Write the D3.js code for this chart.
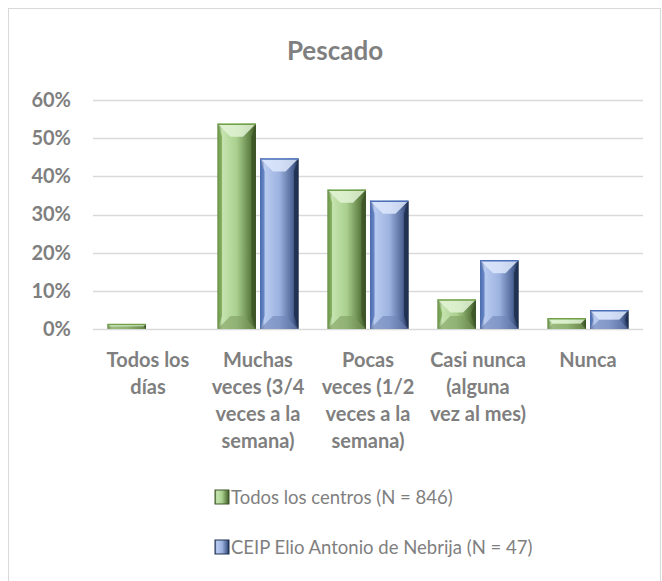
<!DOCTYPE html>
<html>
<head>
<meta charset="utf-8">
<script src="https://cdn.jsdelivr.net/npm/d3@7"></script>
<style>
  body { margin: 0; background: #fff; }
  text { font-family: Lato, "Open Sans", sans-serif; fill: #7f7f7f; }
</style>
</head>
<body>
<div id="chart"></div>
<script>
// data
const categories = [
  "Todos los\ndías",
  "Muchas\nveces (3/4\nveces a la\nsemana)",
  "Pocas\nveces (1/2\nveces a la\nsemana)",
  "Casi nunca\n(alguna\nvez al mes)",
  "Nunca"
];
const todosCentros = [1.3, 53.8, 36.5, 7.7, 2.8];
const ceipNebrija = [0, 44.7, 33.6, 18.0, 4.9];
const yTicks = [0, 10, 20, 30, 40, 50, 60];
const seriesNames = ["Todos los centros (N = 846)", "CEIP Elio Antonio de Nebrija (N = 47)"];

const W = 662, H = 581;
const margin = { left: 93, right: 19, top: 100, bottom: 252 };

const svg = d3.select("#chart").append("svg")
  .attr("width", W)
  .attr("height", H);

// colour sets for the bevelled bars
const palettes = [
  { id: "g", edge: "#3e5628", dark: "#5f7f43", mid: "#a9d08e", light: "#c6e4b0", top: "#e2f3d6", bot: "#7e9f60", line: "#70a047" },
  { id: "b", edge: "#1f3050", dark: "#4e6596", mid: "#9db3e0", light: "#b9cbef", top: "#dde7fb", bot: "#6f86b8", line: "#4a6fb8" }
];

const defs = svg.append("defs");
palettes.forEach(p => {
  const g = defs.append("linearGradient").attr("id", "face-" + p.id)
    .attr("x1", 0).attr("x2", 1).attr("y1", 0).attr("y2", 0);
  g.append("stop").attr("offset", "0%").attr("stop-color", p.dark);
  g.append("stop").attr("offset", "12%").attr("stop-color", p.light);
  g.append("stop").attr("offset", "50%").attr("stop-color", p.mid);
  g.append("stop").attr("offset", "85%").attr("stop-color", p.dark);
  g.append("stop").attr("offset", "100%").attr("stop-color", p.edge);
});

// chart frame
svg.append("rect")
  .attr("x", 8.5).attr("y", 8.5)
  .attr("width", W - 10).attr("height", H + 10)
  .attr("fill", "none")
  .attr("stroke", "#d9d9d9");

svg.append("text")
  .attr("x", 335).attr("y", 60)
  .attr("text-anchor", "middle")
  .attr("font-size", 26)
  .attr("font-weight", "bold")
  .text("Pescado");

const x = d3.scaleBand()
  .domain(d3.range(categories.length))
  .range([margin.left, W - margin.right]);

const y = d3.scaleLinear()
  .domain([0, 60])
  .range([H - margin.bottom, margin.top]);

// gridlines
svg.append("g")
  .selectAll("line")
  .data(yTicks)
  .enter().append("line")
  .attr("x1", margin.left).attr("x2", W - margin.right)
  .attr("y1", d => Math.round(y(d)) + 0.5)
  .attr("y2", d => Math.round(y(d)) + 0.5)
  .attr("stroke", "#d9d9d9")
  .attr("stroke-width", 1.5);

// y axis labels
const yAxis = svg.append("g")
  .attr("transform", `translate(${margin.left - 22},0)`)
  .call(d3.axisLeft(y).tickValues(yTicks).tickSize(0).tickFormat(d => d + "%"));
yAxis.select(".domain").remove();
yAxis.selectAll("text")
  .attr("font-size", 20)
  .attr("font-weight", "bold")
  .attr("font-family", "Lato, sans-serif")
  .attr("fill", "#7f7f7f")
  .attr("x", 0);

const barW = 38.5, gap = 4;
const series = [todosCentros, ceipNebrija];

function drawBar(g, x0, v, p) {
  if (v <= 0) return;
  const y0 = y(v), h = y(0) - y0;
  const bev = Math.min(13, h / 2, barW / 2);
  g.append("rect")
    .attr("x", x0).attr("y", y0)
    .attr("width", barW).attr("height", h)
    .attr("fill", `url(#face-${p.id})`);
  // top bevel
  g.append("polygon")
    .attr("points", [[x0, y0], [x0 + barW, y0], [x0 + barW - bev, y0 + bev], [x0 + bev, y0 + bev]].join(" "))
    .attr("fill", p.top).attr("opacity", 0.85);
  // bottom bevel
  g.append("polygon")
    .attr("points", [[x0, y0 + h], [x0 + barW, y0 + h], [x0 + barW - bev, y0 + h - bev], [x0 + bev, y0 + h - bev]].join(" "))
    .attr("fill", p.bot).attr("opacity", 0.6);
  // left / right bevels
  g.append("polygon")
    .attr("points", [[x0, y0], [x0 + bev * 0.35, y0 + bev], [x0 + bev * 0.35, y0 + h - bev], [x0, y0 + h]].join(" "))
    .attr("fill", p.line).attr("opacity", 0.7);
  g.append("polygon")
    .attr("points", [[x0 + barW, y0], [x0 + barW - bev * 0.35, y0 + bev], [x0 + barW - bev * 0.35, y0 + h - bev], [x0 + barW, y0 + h]].join(" "))
    .attr("fill", p.edge).attr("opacity", 0.9);
  g.append("line")
    .attr("x1", x0).attr("x2", x0 + barW)
    .attr("y1", y0 + 0.5).attr("y2", y0 + 0.5)
    .attr("stroke", p.line).attr("stroke-width", 1.5);
}

const bars = svg.append("g");
categories.forEach((c, i) => {
  const cx = x(i) + x.bandwidth() / 2;
  series.forEach((s, k) => {
    const x0 = k === 0 ? cx - gap / 2 - barW : cx + gap / 2;
    drawBar(bars, x0, s[i], palettes[k]);
  });
});

// category labels
const labels = svg.append("g")
  .selectAll("text")
  .data(categories)
  .enter().append("text")
  .attr("text-anchor", "middle")
  .attr("font-size", 20)
  .attr("font-weight", "bold")
  .attr("x", (d, i) => x(i) + x.bandwidth() / 2)
  .attr("y", 367);
labels.each(function (d, i) {
  const t = d3.select(this);
  d.split("\n").forEach((line, j) => {
    t.append("tspan")
      .attr("x", x(i) + x.bandwidth() / 2)
      .attr("dy", j === 0 ? 0 : 27)
      .text(line);
  });
});

// legend
const legend = svg.append("g")
  .selectAll("g")
  .data(seriesNames)
  .enter().append("g")
  .attr("transform", (d, i) => `translate(215,${490 + i * 50})`);
legend.append("rect")
  .attr("width", 14).attr("height", 14)
  .attr("fill", (d, i) => `url(#face-${palettes[i].id})`)
  .attr("stroke", (d, i) => palettes[i].edge)
  .attr("stroke-width", 1);
legend.append("text")
  .attr("x", 16).attr("y", 14)
  .attr("font-size", 18.5)
  .text(d => d);
</script>
</body>
</html>
